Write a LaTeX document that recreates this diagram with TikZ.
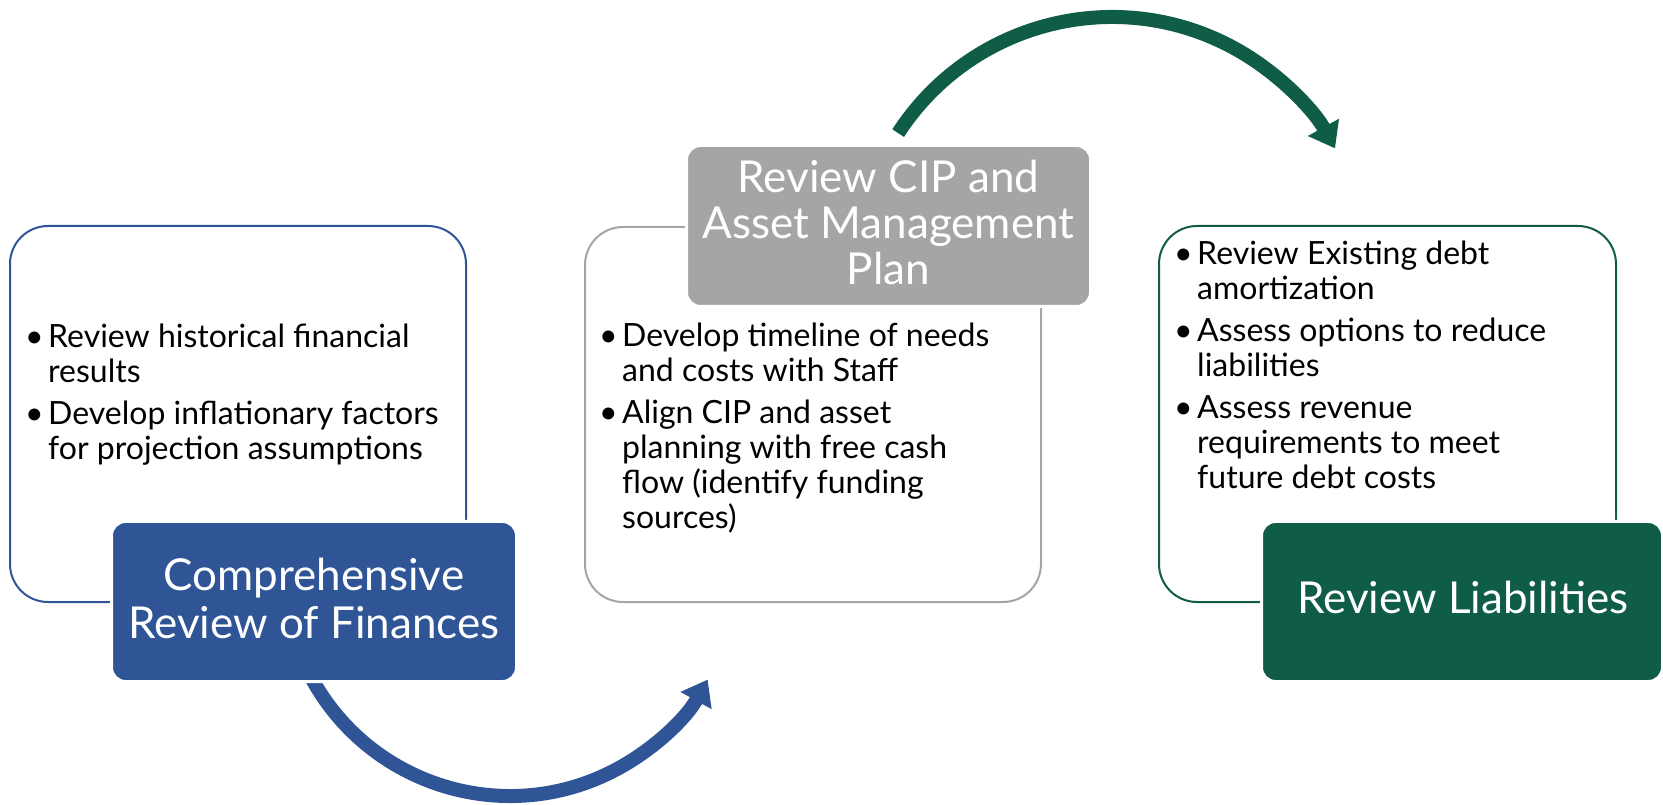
\documentclass[tikz,border=0pt]{standalone}
\usepackage{fontspec}
\setmainfont{Lato}
\usetikzlibrary{arrows.meta}
\definecolor{cblue}{HTML}{2F5597}
\definecolor{cgreen}{HTML}{0F5C47}
\definecolor{cgray}{HTML}{A5A5A5}
\newcommand\bul{\makebox[23pt][l]{\textbullet}}
\newcommand\ind{\hspace*{23pt}}
\begin{document}
\begin{tikzpicture}[x=1pt,y=1pt,
 outline/.style={rounded corners=38pt, line width=2pt, fill=white, inner sep=0pt},
 titlebox/.style={rounded corners=14pt, draw=white, line width=3pt, inner sep=0pt},
 bodytext/.style={anchor=base west, inner sep=0pt, font=\fontsize{32}{35}\selectfont},
 titletext/.style={anchor=base, inner sep=0pt, text=white, font=\fontsize{44}{47}\selectfont},
 flow/.style={line width=14pt, -{Triangle[length=24pt,width=34pt]}}]
\useasboundingbox (0,0) rectangle (1663,804);
% arrows
\coordinate (bc) at (510,234);
\coordinate (gc) at (1112,532);
\draw[flow, cblue] (bc) ++(208:226) arc[start angle=208, end angle=331, radius=226];
\draw[flow, cgreen] (gc) ++(147:255) arc[start angle=147, end angle=29, radius=255];
% outline boxes
\node[outline, draw=cblue, minimum width=456pt, minimum height=376pt] (o1) at (238,390) {};
\node[outline, draw=cgray, minimum width=456pt, minimum height=375pt] (o2) at (813,389.5) {};
\node[outline, draw=cgreen, minimum width=457pt, minimum height=376pt] (o3) at (1387.5,390) {};
% title boxes
\node[titlebox, fill=cblue, minimum width=405pt, minimum height=160pt] (f1) at (314,202.5) {};
\node[titlebox, fill=cgray, minimum width=404pt, minimum height=161pt] (f2) at (888.5,578) {};
\node[titlebox, fill=cgreen, minimum width=401pt, minimum height=160pt] (f3) at (1462,202.5) {};
% body texts
\node[bodytext] (t1) at (25,456) {\parbox[t]{440pt}{\bul Review historical financial\\
 \ind results\\[7pt]
 \bul Develop inflationary factors\\
 \ind for projection assumptions}};
\node[bodytext] (t2) at (599,457) {\parbox[t]{440pt}{\bul Develop timeline of needs\\
 \ind and costs with Staff\\[7pt]
 \bul Align CIP and asset\\
 \ind planning with free cash\\
 \ind flow (identify funding\\
 \ind sources)}};
\node[bodytext] (t3) at (1174,539) {\parbox[t]{440pt}{\bul Review Existing debt\\
 \ind amortization\\[7pt]
 \bul Assess options to reduce\\
 \ind liabilities\\[7pt]
 \bul Assess revenue\\
 \ind requirements to meet\\
 \ind future debt costs}};
% titles
\node[titletext] (h1) at (314,213) {\parbox[t]{400pt}{\centering Comprehensive\\Review of Finances}};
\node[titletext] (h2) at (888.5,611) {\parbox[t]{400pt}{\centering Review CIP and\\[-1pt]Asset Management\\[-1pt]Plan}};
\node[titletext] (h3) at (1463,191) {Review Liabilities};
\end{tikzpicture}
\end{document}
